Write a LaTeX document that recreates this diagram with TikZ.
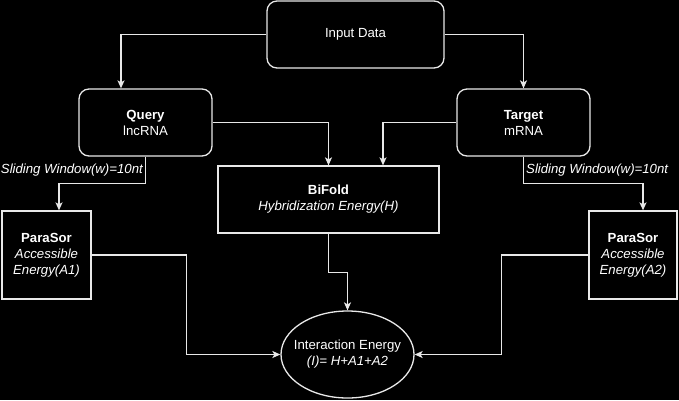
\documentclass[tikz,border=0pt]{standalone}
\usepackage{fontspec}
\setmainfont{Liberation Sans}
\usetikzlibrary{arrows.meta,shapes.geometric,calc}
\definecolor{ln}{HTML}{E8E8E8}
\begin{document}
\begin{tikzpicture}[x=1pt,y=-1pt,
  every node/.style={text=white,font=\fontsize{13.2}{16}\selectfont,align=center,inner sep=0pt},
  rbox/.style={draw=ln,line width=1.3pt,rounded corners=10pt,minimum width=#1,minimum height=67pt},
  sbox/.style={draw=ln,line width=1.3pt,minimum width=#1},
  conn/.style={draw=ln,line width=1.3pt,-{Stealth[length=8pt,width=7pt,inset=2pt]}},
  lbl/.style={font=\fontsize{13.2}{16}\selectfont\itshape}]
\fill[black] (0,0) rectangle (679,400);
\useasboundingbox (0,0) rectangle (679,400);
\node[rbox=177pt] (input) at (355.5,34.5) {Input Data};
\node[rbox=133pt] (query) at (145.5,122.5) {\textbf{Query}\\lncRNA};
\node[rbox=133pt] (target) at (523.5,122.5) {\textbf{Target}\\mRNA};
\node[sbox=221pt,minimum height=67pt] (bifold) at (328.5,199.5) {\textbf{BiFold}\\\textit{Hybridization Energy(H)}};
\node[sbox=89pt,minimum height=88pt] (ps1) at (46.5,255) {\textbf{ParaSor}\\\textit{Accessible}\\\textit{Energy(A1)}};
\node[sbox=88pt,minimum height=88pt] (ps2) at (633,255) {\textbf{ParaSor}\\\textit{Accessible}\\\textit{Energy(A2)}};
\node[draw=ln,line width=1.3pt,ellipse,inner xsep=-7pt,minimum width=133pt,minimum height=87pt] (ie) at (347.5,354.5) {Interaction Energy\\\textit{(I)= H+A1+A2}};
\draw[conn] (input.west) -| ([xshift=-24.5pt]query.north);
\draw[conn] (input.east) -| (target.north);
\draw[conn] (query.east) -| (bifold.north);
\draw[conn] (target.west) -| ([xshift=54.5pt]bifold.north);
\draw[conn] (query.south) -- ++(0,27) -| ([xshift=12.5pt]ps1.north);
\draw[conn] (target.south) -- ++(0,27) -| ([xshift=10pt]ps2.north);
\draw[conn] (ps1.east) -- ++(95,0) |- (ie.west);
\draw[conn] (ps2.west) -- ++(-87,0) |- (ie.east);
\draw[conn] (bifold.south) -- ++(0,39) -| (ie.north);
\node[lbl,anchor=east] (l1) at (143,170) {Sliding Window(w)=10nt};
\node[lbl,anchor=west] (l2) at (526,170) {Sliding Window(w)=10nt};
\end{tikzpicture}
\end{document}
